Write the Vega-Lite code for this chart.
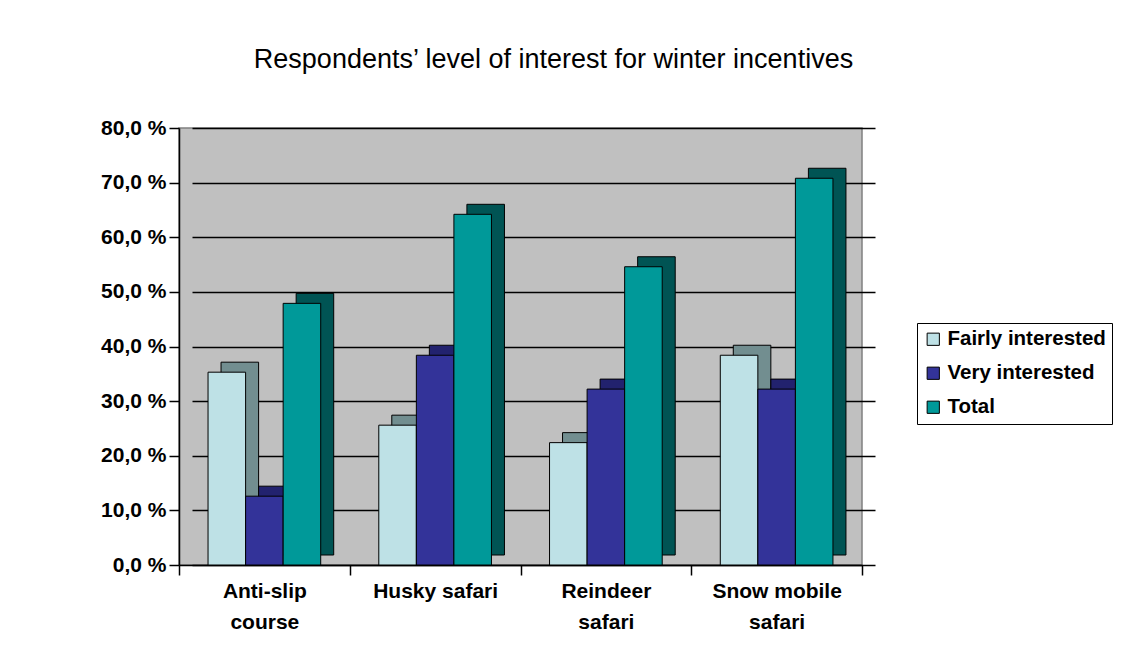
{
  "$schema": "https://vega.github.io/schema/vega-lite/v6.json",
  "width": 683,
  "height": 437,
  "autosize": {"type": "none"},
  "padding": {"left": 179, "top": 128, "right": 272, "bottom": 92},
  "background": "white",
  "title": {
    "text": "Respondents’ level of interest for winter incentives",
    "font": "Liberation Sans",
    "fontSize": 27,
    "fontWeight": "normal",
    "color": "black",
    "anchor": "middle",
    "dx": 33,
    "offset": 43
  },
  "config": {
    "view": {"fill": "#C0C0C0", "stroke": "#808080", "strokeWidth": 1.5},
    "axis": {
      "labelFont": "Liberation Sans",
      "labelFontWeight": "bold",
      "labelFontSize": 21,
      "labelColor": "black",
      "domainColor": "black",
      "domainWidth": 1.5,
      "tickColor": "black",
      "tickWidth": 1.5,
      "tickSize": 10
    }
  },
  "data": {
    "values": [
      {"category": "Anti-slip course", "series": "Fairly interested", "value": 35.3},
      {"category": "Anti-slip course", "series": "Very interested", "value": 12.6},
      {"category": "Anti-slip course", "series": "Total", "value": 47.9},
      {"category": "Husky safari", "series": "Fairly interested", "value": 25.6},
      {"category": "Husky safari", "series": "Very interested", "value": 38.4},
      {"category": "Husky safari", "series": "Total", "value": 64.2},
      {"category": "Reindeer safari", "series": "Fairly interested", "value": 22.4},
      {"category": "Reindeer safari", "series": "Very interested", "value": 32.2},
      {"category": "Reindeer safari", "series": "Total", "value": 54.6},
      {"category": "Snow mobile safari", "series": "Fairly interested", "value": 38.4},
      {"category": "Snow mobile safari", "series": "Very interested", "value": 32.2},
      {"category": "Snow mobile safari", "series": "Total", "value": 70.8}
    ]
  },
  "layer": [
    {
      "mark": {"type": "bar", "yOffset": -10, "stroke": "black", "strokeWidth": 1},
      "encoding": {
        "x": {
          "field": "category",
          "type": "nominal",
          "sort": ["Anti-slip course", "Husky safari", "Reindeer safari", "Snow mobile safari"],
          "scale": {"range": [13, 696], "paddingInner": 0, "paddingOuter": 0},
          "axis": null
        },
        "xOffset": {
          "field": "series",
          "sort": ["Fairly interested", "Very interested", "Total"],
          "scale": {"paddingInner": 0, "paddingOuter": 0.773}
        },
        "y": {
          "field": "value",
          "type": "quantitative",
          "scale": {"domain": [0, 80]},
          "axis": {
            "values": [0, 10, 20, 30, 40, 50, 60, 70, 80],
            "labelExpr": "replace(format(datum.value, '.1f'), '.', ',') + ' %'",
            "title": null,
            "grid": true,
            "gridColor": "black",
            "gridWidth": 1.5,
            "labelPadding": 3
          }
        },
        "color": {
          "field": "series",
          "type": "nominal",
          "scale": {
            "domain": ["Fairly interested", "Very interested", "Total"],
            "range": ["#728E90", "#22226E", "#005454"]
          },
          "legend": null
        }
      }
    },
    {
      "mark": {"type": "bar", "stroke": "black", "strokeWidth": 1},
      "encoding": {
        "x": {
          "field": "category",
          "type": "nominal",
          "sort": ["Anti-slip course", "Husky safari", "Reindeer safari", "Snow mobile safari"],
          "scale": {"paddingInner": 0, "paddingOuter": 0},
          "axis": {
            "title": null,
            "labelAngle": 0,
            "tickBand": "extent",
            "labelPadding": 5,
            "labelLineHeight": 31,
            "labelExpr": "datum.value == 'Anti-slip course' ? ['Anti-slip', 'course'] : datum.value == 'Reindeer safari' ? ['Reindeer', 'safari'] : datum.value == 'Snow mobile safari' ? ['Snow mobile', 'safari'] : datum.value"
          }
        },
        "xOffset": {
          "field": "series",
          "sort": ["Fairly interested", "Very interested", "Total"],
          "scale": {"paddingInner": 0, "paddingOuter": 0.773}
        },
        "y": {
          "field": "value",
          "type": "quantitative",
          "scale": {"domain": [0, 80]},
          "axis": {
            "values": [0, 10, 20, 30, 40, 50, 60, 70, 80],
            "labelExpr": "replace(format(datum.value, '.1f'), '.', ',') + ' %'",
            "title": null,
            "grid": true,
            "gridColor": "black",
            "gridWidth": 1.5,
            "labelPadding": 3
          }
        },
        "color": {
          "field": "series",
          "type": "nominal",
          "scale": {
            "domain": ["Fairly interested", "Very interested", "Total"],
            "range": ["#BEE1E6", "#333399", "#009999"]
          },
          "legend": {
            "title": null,
            "orient": "none",
            "legendX": 738,
            "legendY": 195,
            "strokeColor": "black",
            "fillColor": "white",
            "padding": 6,
            "labelFont": "Liberation Sans",
            "labelFontWeight": "bold",
            "labelFontSize": 20.5,
            "labelColor": "black",
            "symbolType": "square",
            "symbolSize": 150,
            "symbolStrokeColor": "black",
            "symbolStrokeWidth": 1,
            "rowPadding": 13
          }
        }
      }
    }
  ],
  "resolve": {"scale": {"x": "independent", "xOffset": "independent", "color": "independent"}}
}
